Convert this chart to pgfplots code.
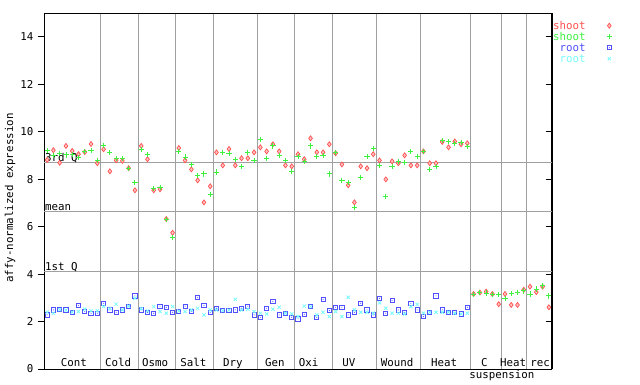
\documentclass[border=0pt]{standalone}
\usepackage{pgfplots}
\usepackage{pgfplotstable}
\pgfplotsset{compat=1.18}
\usepackage{fontspec}
\setmainfont{DejaVu Sans Mono}
\definecolor{sred}{RGB}{255,80,80}
\definecolor{sgreen}{RGB}{64,240,64}
\definecolor{sblue}{RGB}{80,80,255}
\definecolor{scyan}{RGB}{120,250,250}
\definecolor{gridc}{RGB}{160,160,160}
\pgfdeclareplotmark{sqdot}{%
  \pgfpathrectangle{\pgfpoint{-\pgfplotmarksize}{-\pgfplotmarksize}}{\pgfpoint{2\pgfplotmarksize}{2\pgfplotmarksize}}%
  \pgfusepathqstroke
  \pgfpathcircle{\pgfpointorigin}{0.55pt}%
  \pgfusepathqfill}

\pgfplotstableread{
x r g b c
0.5 8.81 9.19 2.28 2.39
1.5 9.22 9.00 2.49 2.35
2.5 8.69 9.09 2.52 2.50
3.5 9.40 9.02 2.49 2.48
4.5 9.19 9.05 2.39 2.40
5.5 9.05 8.92 2.68 2.42
6.5 9.14 9.16 2.42 2.52
7.5 9.48 9.19 2.35 2.45
8.5 8.67 8.79 2.35 2.45
9.5 9.26 9.43 2.77 2.63
10.5 8.33 9.13 2.49 2.55
11.5 8.79 8.88 2.39 2.73
12.5 8.77 8.88 2.49 2.49
13.5 8.46 8.46 2.65 2.65
14.5 7.53 7.87 3.08 2.98
15.5 9.40 9.26 2.49 2.55
16.5 8.84 9.05 2.39 2.45
17.5 7.53 7.61 2.35 2.63
18.5 7.57 7.66 2.65 2.42
19.5 6.32 6.30 2.60 2.35
20.5 5.74 5.55 2.39 2.63
21.5 9.31 9.16 2.42 2.44
22.5 8.79 8.93 2.65 2.42
23.5 8.41 8.63 2.44 2.49
24.5 7.95 8.17 3.02 2.56
25.5 7.02 8.22 2.68 2.28
26.5 7.70 7.36 2.39 2.49
27.5 9.13 8.30 2.56 2.49
28.5 8.58 9.13 2.46 2.46
29.5 9.27 9.09 2.46 2.48
30.5 8.58 8.84 2.49 2.93
31.5 8.88 8.54 2.56 2.49
32.5 8.88 9.13 2.65 2.52
33.5 9.13 8.79 2.28 2.42
34.5 9.34 9.68 2.18 2.35
35.5 9.17 8.88 2.56 2.32
36.5 9.47 9.40 2.85 2.52
37.5 9.17 9.00 2.28 2.60
38.5 8.58 8.79 2.35 2.35
39.5 8.54 8.33 2.18 2.32
40.5 9.05 8.96 2.11 2.21
41.5 8.84 8.75 2.30 2.65
42.5 9.72 9.40 2.63 2.63
43.5 9.13 8.96 2.18 2.28
44.5 9.13 9.00 2.93 2.39
45.5 9.47 8.22 2.46 2.21
46.5 9.09 9.13 2.60 2.42
47.5 8.62 7.95 2.60 2.21
48.5 7.74 7.85 2.28 3.02
49.5 7.02 6.81 2.39 2.49
50.5 8.54 8.08 2.77 2.39
51.5 8.46 8.96 2.49 2.39
52.5 9.05 9.30 2.28 2.35
53.5 8.79 8.58 2.98 2.79
54.5 7.99 7.28 2.35 2.56
55.5 8.75 8.54 2.88 2.35
56.5 8.67 8.75 2.49 2.35
57.5 9.00 8.71 2.39 2.32
58.5 8.58 9.17 2.77 2.63
59.5 8.58 8.96 2.49 2.72
60.5 9.17 9.17 2.21 2.35
61.5 8.67 8.41 2.39 2.39
62.5 8.67 8.54 3.08 2.39
63.5 9.57 9.63 2.49 2.39
64.5 9.34 9.59 2.39 2.39
65.5 9.59 9.51 2.39 2.35
66.5 9.47 9.55 2.32 2.32
67.5 9.51 9.38 2.60 2.35
68.5 3.16 3.14 nan nan
69.5 3.22 3.22 nan nan
70.5 3.26 3.20 nan nan
71.5 3.16 3.14 nan nan
72.5 2.73 3.13 nan nan
73.5 3.16 2.96 nan nan
74.5 2.70 3.19 nan nan
75.5 2.70 3.23 nan nan
76.5 3.34 3.29 nan nan
77.5 3.47 3.16 nan nan
78.5 3.24 3.37 nan nan
79.5 3.47 3.50 nan nan
80.5 2.60 3.08 nan nan
}\data

\begin{document}
\begin{tikzpicture}[font=\fontsize{10.8}{12}\selectfont]
\useasboundingbox (0,0) rectangle (640pt,384pt);
\node[rotate=90] at (10pt,186pt) {affy-normalized expression};
\begin{axis}[
  at={(44pt,15pt)}, anchor=south west,
  scale only axis, width=508pt, height=356pt,
  xmin=0, xmax=81, ymin=0, ymax=15,
  clip=false,
  axis line style={line width=1pt},
  xtick={9,15,21,27,34,40,46,53,60,68,73,77},
  xticklabels={},
  xmajorgrids,
  xtick style={draw=none},
  major grid style={gridc, line width=1pt},
  ytick={0,2,...,14},
  ytick pos=left,
  tick align=outside,
  major tick length=6pt,
  ytick style={line width=1pt, black},
  /pgf/number format/assume math mode=true,
  yticklabel style={xshift=-1pt},
  unbounded coords=discard,
  legend plot pos=right,
  legend cell align=right,
  legend style={draw=none, fill=none, at={(1,1)}, anchor=north west, xshift=-2pt, yshift=-5pt,
    row sep=0pt,
    nodes={inner xsep=0pt, inner ysep=1.5pt, text height=7.5pt, text depth=0.5pt},
    /tikz/every odd column/.append style={column sep=21pt}},
]
\draw[gridc, line width=1pt] (axis cs:0,8.69) -- (axis cs:81,8.69);
\draw[gridc, line width=1pt] (axis cs:0,6.62) -- (axis cs:81,6.62);
\draw[gridc, line width=1pt] (axis cs:0,4.09) -- (axis cs:81,4.09);
\node[anchor=base west, inner sep=0pt] at (axis cs:0.15,8.69) [yshift=1.5pt] {3rd Q};
\node[anchor=base west, inner sep=0pt] at (axis cs:0.15,6.62) [yshift=1.5pt] {mean};
\node[anchor=base west, inner sep=0pt] at (axis cs:0.15,4.09) [yshift=1.5pt] {1st Q};

\addplot[only marks, mark=diamond*, mark size=2.5pt, draw=sred, fill=sred!35, line width=0.7pt] table[x=x, y=r] {\data};
\addlegendentry{\textcolor{sred}{shoot}}
\addplot[only marks, mark=+, mark size=2.6pt, sgreen, line width=0.9pt] table[x=x, y=g] {\data};
\addlegendentry{\textcolor{sgreen}{shoot}}
\addplot[only marks, mark=sqdot, mark size=2.1pt, sblue, line width=0.9pt] table[x=x, y=b] {\data};
\addlegendentry{\textcolor{sblue}{root}}
\addplot[only marks, mark=x, mark size=2.3pt, scyan, line width=0.8pt] table[x=x, y=c] {\data};
\addlegendentry{\textcolor{scyan}{root}}

\node[anchor=base, inner sep=0pt] at (axis cs:4.75,0) [yshift=2.5pt] {Cont};
\node[anchor=base, inner sep=0pt] at (axis cs:11.8,0) [yshift=2.5pt] {Cold};
\node[anchor=base, inner sep=0pt] at (axis cs:17.7,0) [yshift=2.5pt] {Osmo};
\node[anchor=base, inner sep=0pt] at (axis cs:23.8,0) [yshift=2.5pt] {Salt};
\node[anchor=base, inner sep=0pt] at (axis cs:30.1,0) [yshift=2.5pt] {Dry};
\node[anchor=base, inner sep=0pt] at (axis cs:36.8,0) [yshift=2.5pt] {Gen};
\node[anchor=base, inner sep=0pt] at (axis cs:42.2,0) [yshift=2.5pt] {Oxi};
\node[anchor=base, inner sep=0pt] at (axis cs:48.6,0) [yshift=2.5pt] {UV};
\node[anchor=base, inner sep=0pt] at (axis cs:56.3,0) [yshift=2.5pt] {Wound};
\node[anchor=base, inner sep=0pt] at (axis cs:63.8,0) [yshift=2.5pt] {Heat};
\node[anchor=base, inner sep=0pt] at (axis cs:70.2,0) [yshift=2.5pt] {C};
\node[anchor=base, inner sep=0pt] at (axis cs:74.8,0) [yshift=2.5pt] {Heat};
\node[anchor=base, inner sep=0pt] at (axis cs:79.1,0) [yshift=2.5pt] {rec};
\node[anchor=base, inner sep=0pt] at (axis cs:73,0) [yshift=-9pt] {suspension};
\end{axis}
\begin{axis}[
  at={(44pt,15pt)}, anchor=south west,
  scale only axis, width=508pt, height=356pt,
  xmin=0, xmax=81, ymin=0, ymax=15,
  axis x line=none, axis y line*=right,
  axis line style={line width=1pt, -},
  ytick={0,2,...,14}, yticklabels={},
  tick align=inside, major tick length=6pt,
  ytick style={line width=1pt, black},
]
\end{axis}
\end{tikzpicture}
\end{document}
